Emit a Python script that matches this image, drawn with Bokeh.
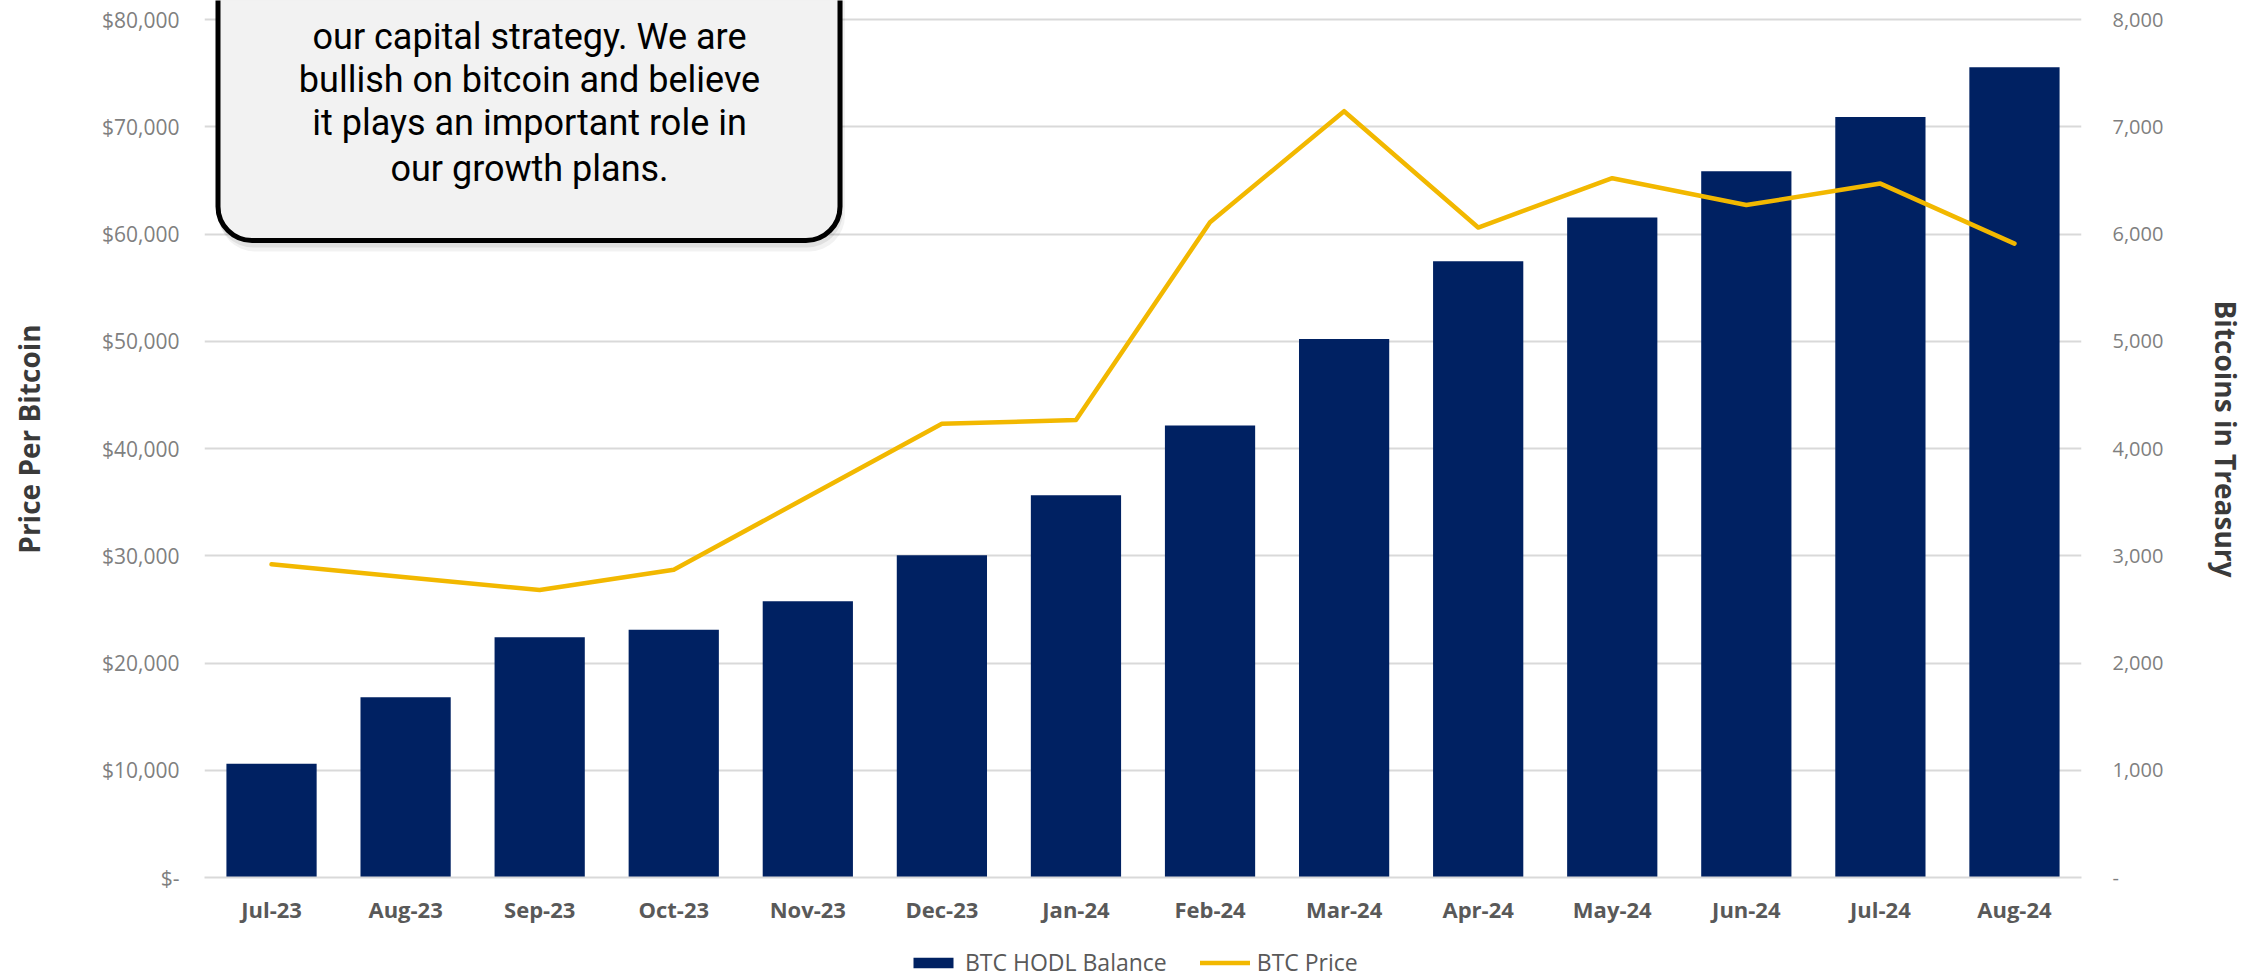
from bokeh.plotting import figure
from bokeh.layouts import column
from bokeh.models import (ColumnDataSource, FactorRange, Range1d, LinearAxis, FixedTicker,
                          BoxAnnotation, Label, Legend, LegendItem)
from bokeh.embed import file_html
from bokeh.resources import INLINE

# ---------------- data ----------------
months = ["Jul-23", "Aug-23", "Sep-23", "Oct-23", "Nov-23", "Dec-23", "Jan-24",
          "Feb-24", "Mar-24", "Apr-24", "May-24", "Jun-24", "Jul-24", "Aug-24"]
btc_balance = [1060, 1680, 2240, 2310, 2575, 3005, 3565, 4215, 5020, 5745, 6155, 6585, 7090, 7555]
btc_price = [29200, 28000, 26800, 28700, 35500, 42300, 42650, 61100, 71450, 60600, 65200, 62700, 64700, 59100]

price_ticks = [0, 10000, 20000, 30000, 40000, 50000, 60000, 70000, 80000]
price_tick_labels = ["$-", "$10,000", "$20,000", "$30,000", "$40,000", "$50,000",
                     "$60,000", "$70,000", "$80,000"]
balance_ticks = [0, 1000, 2000, 3000, 4000, 5000, 6000, 7000, 8000]
balance_tick_labels = ["-", "1,000", "2,000", "3,000", "4,000", "5,000", "6,000", "7,000", "8,000"]

series_names = ["BTC HODL Balance", "BTC Price"]

quote_lines = ["our capital strategy. We are",
               "bullish on bitcoin and believe",
               "it plays an important role in",
               "our growth plans."]

# ---------------- layout (canvas pixels) ----------------
W = 2251
H_MAIN, H_LEGEND = 930, 48
FRAME_L, FRAME_R = 204, 2081
Y_ZERO_PX, Y_TOP_TICK_PX = 877, 19
px_per_unit = (Y_ZERO_PX - Y_TOP_TICK_PX) / 80000.0
price_end = 80000 + Y_TOP_TICK_PX / px_per_unit

NAVY = "#002162"
GOLD = "#F2B800"
GRID = "#d9d9d9"


def px_to_x(px):
    return (px - FRAME_L) / ((FRAME_R - FRAME_L) / len(months))


def px_to_price(py):
    return (Y_ZERO_PX - py) / px_per_unit


src = ColumnDataSource(dict(month=months, balance=btc_balance, price=btc_price))

p = figure(width=W, height=H_MAIN, x_range=FactorRange(*months),
           y_range=Range1d(0, price_end),
           output_backend="svg", toolbar_location=None,
           min_border_left=FRAME_L, min_border_right=W - FRAME_R,
           min_border_top=0, min_border_bottom=H_MAIN - Y_ZERO_PX)
p.outline_line_color = None
p.background_fill_color = "white"
p.border_fill_color = "white"
p.extra_y_ranges = {"btc": Range1d(0, price_end / 10.0)}

# grid
p.xgrid.visible = False
p.ygrid.ticker = FixedTicker(ticks=price_ticks)
p.ygrid.grid_line_color = GRID
p.ygrid.grid_line_width = 2

# x axis
xa = p.xaxis[0]
xa.axis_line_color = GRID
xa.axis_line_width = 2
xa.major_tick_line_color = None
xa.minor_tick_line_color = None
xa.major_tick_out = 0
xa.major_tick_in = 0
xa.major_label_standoff = 16
xa.major_label_text_font = "Open Sans"
xa.major_label_text_font_style = "bold"
xa.major_label_text_font_size = "22px"
xa.major_label_text_color = "#595959"

# left axis
ya = p.yaxis[0]
ya.ticker = FixedTicker(ticks=price_ticks)
ya.major_label_overrides = dict(zip(price_ticks, price_tick_labels))
ya.axis_line_color = None
ya.major_tick_line_color = None
ya.minor_tick_line_color = None
ya.major_tick_out = 0
ya.major_label_standoff = 25
ya.major_label_text_font = "Open Sans"
ya.major_label_text_font_size = "21px"
ya.major_label_text_color = "#7f7f7f"
ya.axis_label = "Price Per Bitcoin"
ya.axis_label_standoff = 51
ya.axis_label_text_font = "Open Sans"
ya.axis_label_text_font_style = "bold"
ya.axis_label_text_font_size = "28px"
ya.axis_label_text_color = "#3a3a3a"

# right axis
ra = LinearAxis(y_range_name="btc", ticker=FixedTicker(ticks=balance_ticks))
ra.major_label_overrides = dict(zip(balance_ticks, balance_tick_labels))
ra.axis_line_color = None
ra.major_tick_line_color = None
ra.minor_tick_line_color = None
ra.major_tick_out = 0
ra.major_label_standoff = 31
ra.major_label_text_font = "Open Sans"
ra.major_label_text_font_size = "20px"
ra.major_label_text_color = "#7f7f7f"
ra.axis_label = "Bitcoins in Treasury"
ra.axis_label_standoff = 41
ra.axis_label_text_font = "Open Sans"
ra.axis_label_text_font_style = "bold"
ra.axis_label_text_font_size = "28px"
ra.axis_label_text_color = "#3a3a3a"
p.add_layout(ra, "right")

# data
bar_style = dict(fill_color=NAVY, line_color=None)
line_style = dict(line_color=GOLD, line_width=4.5, line_join="round", line_cap="round")
p.vbar(x="month", top="balance", width=0.673, source=src, y_range_name="btc", **bar_style)
p.line(x="month", y="price", source=src, **line_style)

# quote box (outer edges: 215..842, bottom 242.5)
bl, br, bb, bt = 217.5, 839.5, 240, -60
for dx, dy, a in [(3, 9, 0.05), (1, 5, 0.07)]:
    p.add_layout(BoxAnnotation(left=px_to_x(bl - 2 + dx), right=px_to_x(br + 2 + dx),
                               bottom=px_to_price(bb + 2 + dy), top=px_to_price(bt),
                               fill_color="black", fill_alpha=a, line_color=None,
                               border_radius=36))
p.add_layout(BoxAnnotation(left=px_to_x(bl), right=px_to_x(br), bottom=px_to_price(bb),
                           top=px_to_price(bt), fill_color="#f2f2f2", fill_alpha=1,
                           line_color="black", line_width=5, line_alpha=1, border_radius=34))

baselines = [36, 79, 122.5, 168]
for txt, by in zip(quote_lines, baselines):
    p.add_layout(Label(x=px_to_x(529), y=px_to_price(by), text=txt, text_align="center",
                       text_baseline="alphabetic", text_font="Roboto", text_font_size="36px",
                       text_color="black"))

# ---------------- legend strip (separate canvas below the chart) ----------------
# the same series are attached to this strip only to provide legend swatches;
# its y-range keeps them out of view.
pl = figure(width=W, height=H_LEGEND, x_range=p.x_range, y_range=Range1d(-2, -1),
            output_backend="svg", toolbar_location=None, x_axis_type=None, y_axis_type=None,
            min_border_left=FRAME_L, min_border_right=W - FRAME_R, min_border_top=0,
            min_border_bottom=0)
pl.outline_line_color = None
pl.grid.visible = False
pl.background_fill_color = "white"
pl.border_fill_color = "white"
lg_bar = pl.vbar(x="month", top="balance", width=0, source=src, **bar_style)
lg_line = pl.line(x="month", y="price", source=src, **line_style)

legend = Legend(items=[LegendItem(label=series_names[0], renderers=[lg_bar]),
                       LegendItem(label=series_names[1], renderers=[lg_line])],
                orientation="horizontal", location=(908 - FRAME_L, 0),
                glyph_width=50, glyph_height=13, label_standoff=7, spacing=33,
                padding=0, margin=0, border_line_color=None, background_fill_alpha=0,
                label_text_font="Open Sans", label_text_font_size="23px",
                label_text_color="#595959")
pl.add_layout(legend)

layout = column(p, pl, spacing=0)
open("out.html", "w").write(file_html(layout, INLINE))
